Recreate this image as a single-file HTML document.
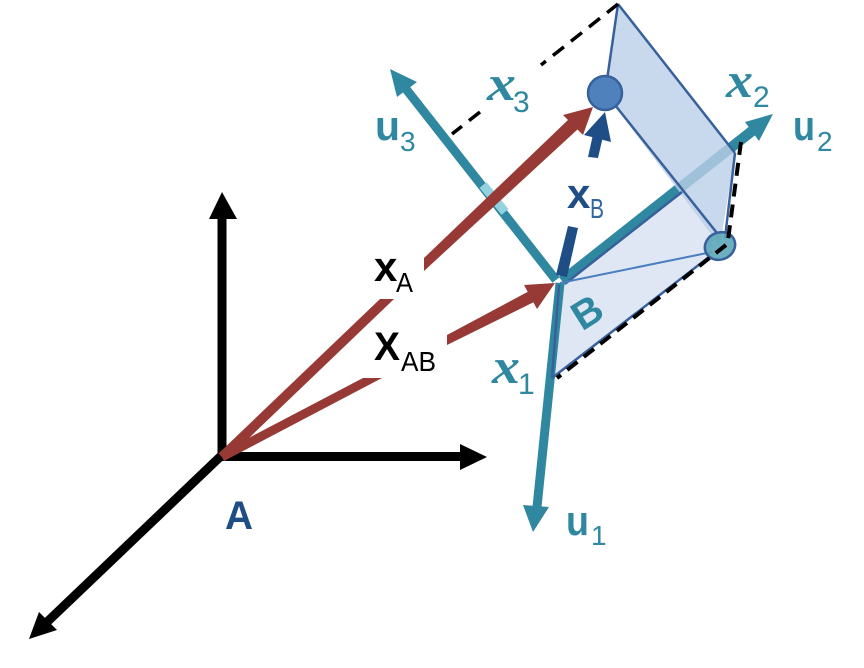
<!DOCTYPE html>
<html>
<head>
<meta charset="utf-8">
<style>
html,body{margin:0;padding:0;background:#fff;width:864px;height:668px;overflow:hidden}
svg{display:block}
text{font-family:"Liberation Sans",sans-serif}
.m{font-family:"Liberation Serif",serif;font-style:italic;font-weight:bold;fill:#2f88a0}
.t{fill:#2f88a0}
</style>
</head>
<body>
<svg width="864" height="668" viewBox="0 0 864 668" xmlns="http://www.w3.org/2000/svg">
<rect width="864" height="668" fill="#fff"/>

<!-- lower plane -->
<polygon points="559,283 680,186 717,233 708,256 552,378" fill="#dfe7f4"/>

<!-- black axes -->
<g stroke="#000" stroke-width="9" fill="none">
<line x1="222" y1="458" x2="222" y2="216"/>
<line x1="218" y1="456.500" x2="462" y2="456.500"/>
<line x1="222" y1="455" x2="46" y2="623"/>
</g>
<polygon points="222,192 237,219 209,219" fill="#000"/>
<polygon points="487,457 460,444 460,470" fill="#000"/>
<polygon points="29,639 39,612 57,630" fill="#000"/>

<!-- u axes -->
<line x1="556" y1="280" x2="406" y2="89" stroke="#2f88a0" stroke-width="9"/>
<polygon points="390,69 417,82 397,97" fill="#2f88a0"/>
<line x1="483" y1="185" x2="505" y2="212" stroke="#93d2df" stroke-width="9"/>
<line x1="562" y1="281" x2="752" y2="131" stroke="#2f88a0" stroke-width="10.500"/>
<polygon points="773,114 745,122 759,141" fill="#2f88a0"/>
<line x1="560" y1="283" x2="537" y2="507" stroke="#2f88a0" stroke-width="9"/>
<polygon points="533,532 523,505 549,507" fill="#2f88a0"/>

<!-- upper plane (translucent over u2) -->
<polygon points="618,4 735,153 720,246 605,93" fill="#bcd0e8" fill-opacity="0.8"/>

<!-- red vectors -->
<g fill="#973a36">
<polygon points="380,299 394,299 225.500,460.500 218.500,453.500"/>
<polygon points="424,258 424,271 578,129 569,119"/>
<polygon points="363,378 382,378 224,461 220,453"/>
<polygon points="447,335 447,345 538,300 533,289"/>
</g>
<polygon points="593,107 563,115 583,135" fill="#973a36"/>
<polygon points="555,283 524,285 537,309" fill="#973a36"/>

<!-- plane outlines -->
<g stroke="#38609a" stroke-width="2.500" fill="none">
<line x1="618" y1="4" x2="607" y2="80"/>
<line x1="618" y1="4" x2="735" y2="153"/>
<line x1="735" y1="153" x2="725" y2="238"/>
<line x1="615" y1="105" x2="717" y2="233"/>
<line x1="566" y1="283" x2="682" y2="192"/>
<line x1="559" y1="285" x2="552" y2="378"/>
<line x1="552" y1="378" x2="709" y2="257"/>
</g>
<line x1="560" y1="283" x2="712" y2="252" stroke="#4a7ec0" stroke-width="2"/>

<!-- points -->
<circle cx="605" cy="93" r="17" fill="#4f81bd" stroke="#38609a" stroke-width="2.500"/>
<ellipse cx="720" cy="246" rx="15.500" ry="13.500" fill="#5ba6b9" fill-opacity="0.9" stroke="#38609a" stroke-width="2.500" transform="rotate(-25 720 246)"/>

<!-- dashed -->
<g stroke="#000" fill="none">
<g stroke-width="3.500" stroke-dasharray="14 9">
<line x1="618" y1="4" x2="541" y2="65"/>
<line x1="480" y1="112" x2="452" y2="134"/>
</g>
<g stroke-width="4" stroke-dasharray="13 8">
<line x1="741" y1="142" x2="728" y2="240"/>
<line x1="726" y1="245" x2="557" y2="378"/>
</g>
</g>

<!-- xB -->
<polygon points="556,275 567,277 578,228 568,226" fill="#1f4e87"/>
<polygon points="588,157 598,158 604,132 594,130" fill="#1f4e87"/>
<polygon points="605,112 584,135 611,142" fill="#1f4e87"/>

<!-- labels -->
<g font-weight="bold" font-size="42">
<text x="375" y="140" class="t" textLength="25" lengthAdjust="spacingAndGlyphs">u</text>
<text x="793" y="140" class="t" textLength="22" lengthAdjust="spacingAndGlyphs">u</text>
<text x="566" y="535" class="t" textLength="23" lengthAdjust="spacingAndGlyphs">u</text>
<text x="567" y="208" fill="#1f4e87">x</text>
<text x="374" y="281" fill="#000">x</text>
</g>
<text x="374" y="360" font-weight="bold" font-size="40" fill="#000" textLength="26" lengthAdjust="spacingAndGlyphs">X</text>
<g font-size="28">
<text x="400" y="151" class="t">3</text>
<text x="817" y="151" class="t">2</text>
<text x="591" y="545" class="t">1</text>
<text x="590" y="218" fill="#33659f" textLength="14" lengthAdjust="spacingAndGlyphs">B</text>
<text x="396" y="292" fill="#000" textLength="17" lengthAdjust="spacingAndGlyphs">A</text>
<text x="401" y="371" fill="#000" textLength="35" lengthAdjust="spacingAndGlyphs">AB</text>
</g>
<g font-size="50">
<text x="487" y="100" class="m" textLength="29" lengthAdjust="spacingAndGlyphs">x</text>
<text x="726" y="97" class="m" textLength="27" lengthAdjust="spacingAndGlyphs">x</text>
<text x="492" y="383" class="m" textLength="28" lengthAdjust="spacingAndGlyphs">x</text>
</g>
<g font-size="30">
<text x="513" y="112" class="t">3</text>
<text x="753" y="107" class="t">2</text>
<text x="518" y="394" class="t">1</text>
</g>
<text x="225" y="529" font-weight="bold" font-size="40" fill="#1f4e87" textLength="28" lengthAdjust="spacingAndGlyphs">A</text>
<text x="587" y="326" text-anchor="middle" font-weight="bold" font-size="40" class="t" transform="rotate(-32 587 312)">B</text>
</svg>
</body>
</html>
